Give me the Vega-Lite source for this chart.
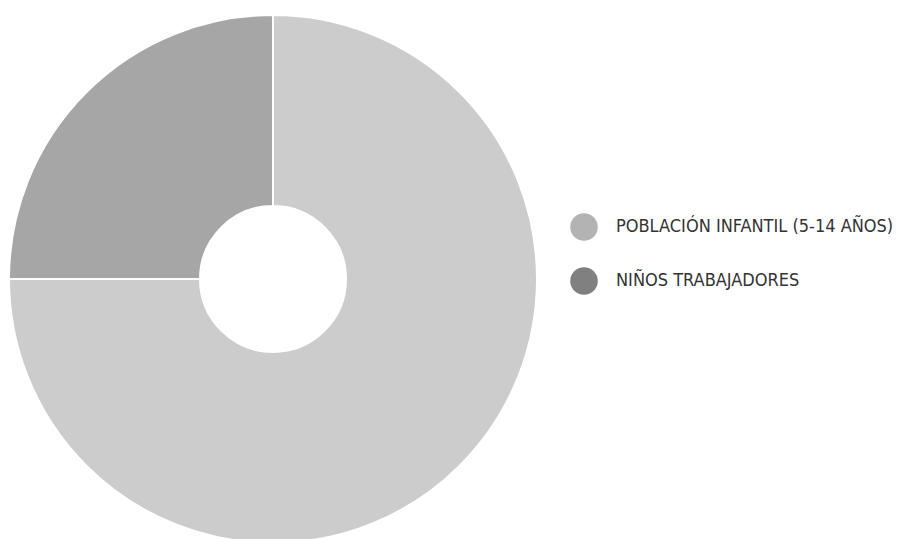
{
  "$schema": "https://vega.github.io/schema/vega-lite/v6.json",
  "width": 546,
  "height": 558,
  "autosize": {"type": "none"},
  "padding": {"left": 0, "top": 0, "right": 360, "bottom": 0},
  "background": "#ffffff",
  "data": {
    "values": [
      {"grupo": "POBLACIÓN INFANTIL (5-14 AÑOS)", "valor": 75},
      {"grupo": "NIÑOS TRABAJADORES", "valor": 25}
    ]
  },
  "layer": [
    {
      "mark": {"type": "arc", "radius": 264, "radius2": 73, "stroke": "#ffffff", "strokeWidth": 2},
      "encoding": {
        "theta": {"field": "valor", "type": "quantitative", "stack": true},
        "order": {"field": "valor", "sort": "descending"},
        "fill": {
          "field": "grupo",
          "type": "nominal",
          "scale": {"domain": ["POBLACIÓN INFANTIL (5-14 AÑOS)", "NIÑOS TRABAJADORES"], "range": ["#cccccc", "#a6a6a6"]},
          "legend": null
        }
      }
    },
    {
      "mark": {"type": "point", "filled": true, "opacity": 0},
      "encoding": {
        "color": {
          "field": "grupo",
          "type": "nominal",
          "scale": {"domain": ["POBLACIÓN INFANTIL (5-14 AÑOS)", "NIÑOS TRABAJADORES"], "range": ["#b3b3b3", "#808080"]},
          "legend": {
            "title": null,
            "orient": "none",
            "legendX": 570,
            "legendY": 213,
            "padding": 0,
            "symbolType": "circle",
            "symbolSize": 760,
            "symbolOpacity": 1,
            "symbolStrokeWidth": 0,
            "labelFont": "Liberation Sans Narrow, DejaVu Sans Condensed, sans-serif",
            "labelFontSize": 18,
            "labelColor": "#333333",
            "labelOffset": 18,
            "rowPadding": 26,
            "labelLimit": 400
          }
        }
      }
    }
  ],
  "resolve": {"scale": {"color": "independent", "fill": "independent"}},
  "config": {"view": {"stroke": null}}
}
